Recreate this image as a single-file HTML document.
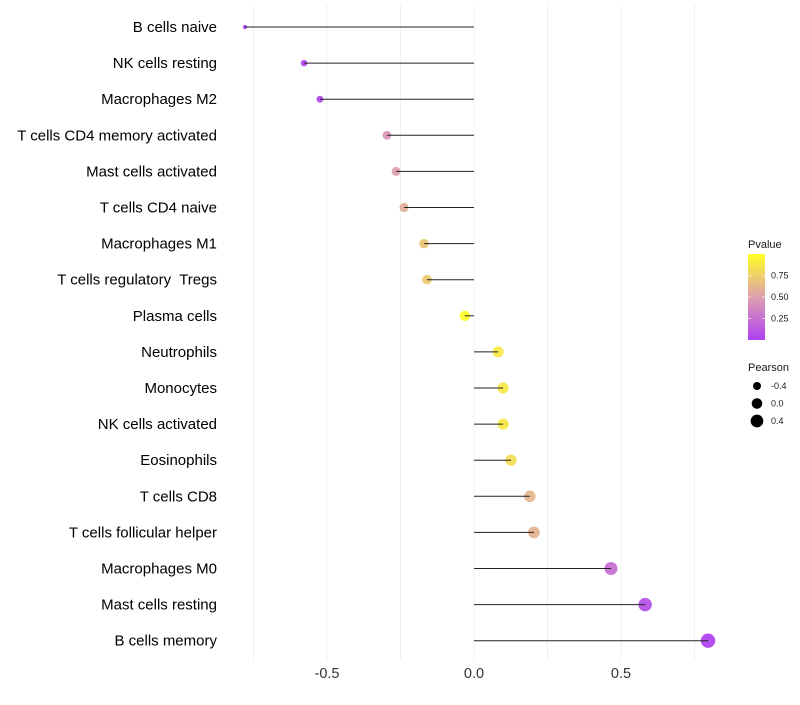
<!DOCTYPE html>
<html><head><meta charset="utf-8"><style>
body{margin:0;background:#fff;font-family:"Liberation Sans",sans-serif}
text{white-space:pre}
</style></head><body>
<svg id="chart" width="800" height="700" xmlns="http://www.w3.org/2000/svg" font-family="Liberation Sans, sans-serif">
<g id="grid"></g>
<g id="marks"></g>
<g id="ylabels"></g>
<g id="xlabels"></g>
<g id="legend"></g>
</svg>
<script>
const categories=["B cells naive","NK cells resting","Macrophages M2","T cells CD4 memory activated","Mast cells activated","T cells CD4 naive","Macrophages M1","T cells regulatory  Tregs","Plasma cells","Neutrophils","Monocytes","NK cells activated","Eosinophils","T cells CD8","T cells follicular helper","Macrophages M0","Mast cells resting","B cells memory"];
const pearson=[-0.779,-0.578,-0.524,-0.296,-0.265,-0.238,-0.170,-0.160,-0.031,0.082,0.099,0.099,0.126,0.190,0.204,0.466,0.582,0.796];
const pvalue=[0.0,0.03,0.06,0.45,0.5,0.58,0.7,0.72,0.98,0.88,0.87,0.88,0.82,0.62,0.6,0.25,0.08,0.01];
const xTicks=[-0.5,0.0,0.5];
const xTickLabels=["-0.5","0.0","0.5"];
const legendP=[0.75,0.50,0.25];
const legendR=[-0.4,0.0,0.4];

const NS="http://www.w3.org/2000/svg";
const x=v=>474+v*294;
const y=i=>27+i*36.1;
const rad=v=>Math.sqrt(Math.max(3,28+30*v));
function col(p){
  const a=[160,32,240],m=[216,143,160],b=[255,255,0];
  let c;
  if(p<0.5){const t=p/0.5;c=a.map((v,k)=>v+(m[k]-v)*t);}else{const t=(p-0.5)/0.5;c=m.map((v,k)=>v+(b[k]-v)*t);}
  return "rgb("+c.map(Math.round).join(",")+")";
}
function mk(tag,attrs,parent,text){const e=document.createElementNS(NS,tag);for(const k in attrs)e.setAttribute(k,attrs[k]);if(text!==undefined)e.textContent=text;parent.appendChild(e);return e;}
const grid=document.getElementById('grid');
for(let v=-0.75;v<=0.76;v+=0.25){
  const l=mk('line',{x1:x(v),x2:x(v),y1:5,y2:660,stroke:'#f0f0f0','stroke-width':1},grid);
  
  
}
const marks=document.getElementById('marks');
const yl=document.getElementById('ylabels');
categories.forEach((c,i)=>{
  const cy=y(i);
  const dot=mk('circle',{cx:x(pearson[i]),cy:cy,r:rad(pearson[i]),fill:col(pvalue[i]),'fill-opacity':0.8},marks);
  
  
  const ln=mk('line',{x1:x(0),x2:x(pearson[i]),y1:cy,y2:cy,stroke:'#222','stroke-width':1},marks);
  
  
  const t=mk('text',{x:217,y:cy+5,'text-anchor':'end','font-size':15,fill:'#000'},yl,c);
  
  
});
const xl=document.getElementById('xlabels');
xTicks.forEach((v,i)=>{
  const t=mk('text',{x:x(v),y:678,'text-anchor':'middle','font-size':14.5,fill:'#333'},xl,xTickLabels[i]);
  
  
});
const lg=document.getElementById('legend');
const defs=mk('defs',{},lg);
const gr=mk('linearGradient',{id:'pg',x1:0,y1:1,x2:0,y2:0},defs);
mk('stop',{offset:'0%','stop-color':col(0)},gr);
mk('stop',{offset:'50%','stop-color':col(0.5)},gr);
mk('stop',{offset:'100%','stop-color':col(1)},gr);
const pt=mk('text',{x:748,y:248,'font-size':11,fill:'#1a1a1a'},lg,'Pvalue');


const bar=mk('rect',{x:748,y:254,width:17,height:86,fill:'url(#pg)','fill-opacity':0.85},lg);


legendP.forEach(p=>{
  const yy=340-p*86;
  mk('line',{x1:748,x2:751,y1:yy,y2:yy,stroke:'#fff','stroke-opacity':0.6},lg);
  mk('line',{x1:762,x2:765,y1:yy,y2:yy,stroke:'#fff','stroke-opacity':0.6},lg);
  const t=mk('text',{x:771,y:yy+3,'font-size':9,fill:'#1a1a1a'},lg,p.toFixed(2));
  
  
});
const st=mk('text',{x:748,y:371,'font-size':11,fill:'#1a1a1a'},lg,'Pearson');


legendR.forEach((v,i)=>{
  const yy=386+i*17.5;
  const c=mk('circle',{cx:757,cy:yy,r:rad(v),fill:'#000'},lg);
  
  
  const t=mk('text',{x:771,y:yy+3,'font-size':9,fill:'#1a1a1a'},lg,v.toFixed(1));
  
  
});
</script>
</body></html>
